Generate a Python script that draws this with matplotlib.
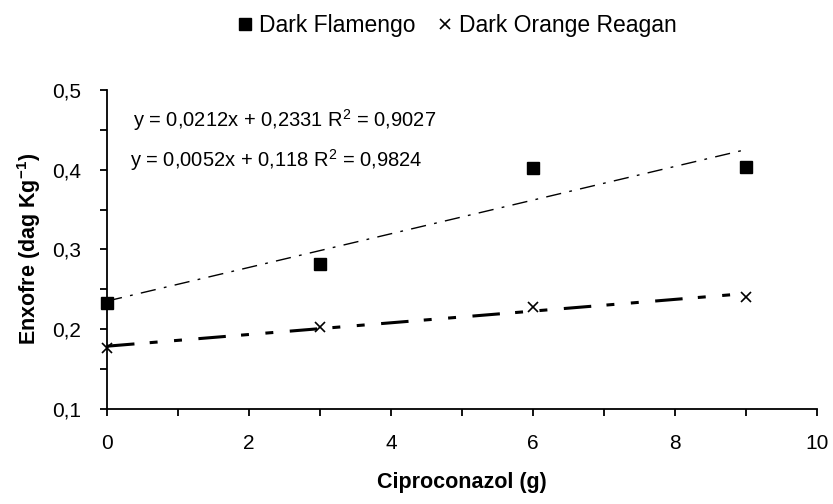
import numpy as np
import matplotlib.pyplot as plt
from matplotlib.ticker import MultipleLocator, FuncFormatter

plt.rcParams['font.family'] = ['Liberation Sans', 'DejaVu Sans']
plt.rcParams['mathtext.fontset'] = 'custom'
plt.rcParams['mathtext.rm'] = 'Liberation Sans'
plt.rcParams['mathtext.bf'] = 'Liberation Sans:bold'

# Data
doses = [0, 3, 6, 9]
flamengo = [0.233, 0.282, 0.402, 0.404]
reagan = [0.176, 0.2025, 0.2275, 0.241]

eq_flamengo = "y = 0,0212x + 0,2331 R$^2$ = 0,9027"
eq_reagan = "y = 0,0052x + 0,118 R$^2$ = 0,9824"

fig = plt.figure(figsize=(8.33, 5.04), dpi=100)
ax = fig.add_axes([0.1285, 0.1885, 0.852, 0.633])

# Scatter points
ax.plot(doses, flamengo, 's', color='black', markersize=8, label='Dark Flamengo',
        clip_on=False, zorder=3)
ax.plot(doses, reagan, 'x', color='black', markersize=7, markeredgewidth=1.2,
        label='Dark Orange Reagan', clip_on=False, zorder=3)

# Linear trend lines
xs = np.array([doses[0], doses[-1]])
p1 = np.polyfit(doses, flamengo, 1)
p2 = np.polyfit(doses, reagan, 1)
ax.plot(xs, np.polyval(p1, xs), color='black', lw=1.0,
        linestyle=(0, (11, 6, 2, 6)), zorder=2)
ax.plot(xs, np.polyval(p2, xs), color='black', lw=2.2,
        linestyle=(0, (9, 5, 2.6, 5.4, 2.6, 5.4)), zorder=2)

ax.text(0.036, 0.905, eq_flamengo, transform=ax.transAxes, fontsize=14.5, va='center')
ax.text(0.033, 0.78, eq_reagan, transform=ax.transAxes, fontsize=14.5, va='center')

ax.set_xlim(0, 10)
ax.set_ylim(0.1, 0.5)
ax.xaxis.set_major_locator(MultipleLocator(2))
ax.xaxis.set_minor_locator(MultipleLocator(1))
ax.yaxis.set_major_locator(MultipleLocator(0.1))
ax.yaxis.set_minor_locator(MultipleLocator(0.05))
ax.yaxis.set_major_formatter(FuncFormatter(lambda v, p: f"{v:.1f}".replace('.', ',')))
ax.xaxis.set_major_formatter(FuncFormatter(lambda v, p: f"{v:.0f}"))

for s in ['top', 'right']:
    ax.spines[s].set_visible(False)
for s in ['left', 'bottom']:
    ax.spines[s].set_linewidth(1.3)

ax.tick_params(axis='both', which='both', direction='out', length=5, width=1.3,
               labelsize=15, colors='black')
ax.tick_params(axis='x', pad=13)
ax.tick_params(axis='y', pad=14)

ax.set_xlabel('Ciproconazol (g)', fontsize=15.5, fontweight='bold', labelpad=14)
ax.set_ylabel('Enxofre (dag Kg$^{\\mathbf{-1}}$)', fontsize=15.5, fontweight='bold',
              labelpad=6)

fig.legend(loc='center', bbox_to_anchor=(0.546, 0.95), ncol=2, frameon=False,
           fontsize=16.5, handletextpad=0.1, columnspacing=0.8, handlelength=1.0)

fig.savefig('out.png', dpi=100)
